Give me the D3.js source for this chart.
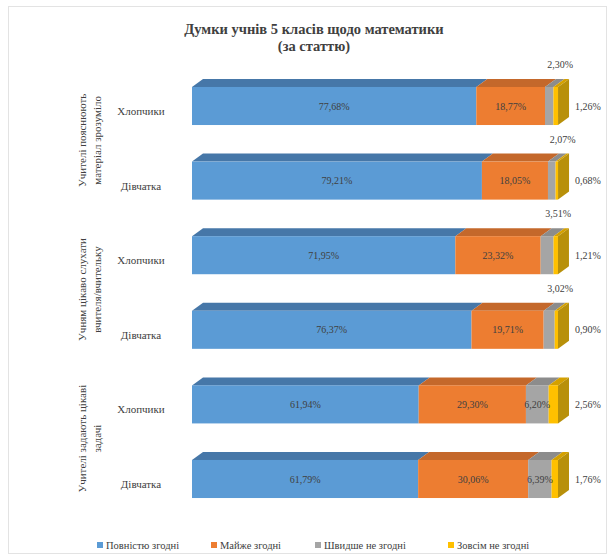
<!DOCTYPE html>
<html><head><meta charset="utf-8">
<script src="https://cdn.jsdelivr.net/npm/d3@7"></script>
<style>body{margin:0;background:#fff}svg{display:block}</style>
</head><body><svg id="c" width="614" height="558"></svg>
<script>
const title = ["Думки учнів 5 класів щодо математики", "(за статтю)"];
const groupLabels = [["Учителі пояснюють", "матеріал зрозуміло"], ["Учням цікаво слухати", "вчителя/вчительку"], ["Учителі задають цікаві", "задачі"]];
const genders = ["Хлопчики", "Дівчатка"];
const seriesNames = ["Повністю згодні", "Майже згодні", "Швидше не згодні", "Зовсім не згодні"];
const fullyAgree = [77.68, 79.21, 71.95, 76.37, 61.94, 61.79];
const mostlyAgree = [18.77, 18.05, 23.32, 19.71, 29.30, 30.06];
const ratherDisagree = [2.30, 2.07, 3.51, 3.02, 6.20, 6.39];
const fullyDisagree = [1.26, 0.68, 1.21, 0.90, 2.56, 1.76];

const front = ["#5B9BD5", "#ED7D31", "#A5A5A5", "#FFC000"];
const topC = ["#4677A8", "#C4682B", "#8C8C8C", "#D4A000"];
const sideC = ["#3F6E9A", "#AD5A23", "#7A7A7A", "#B8900A"];
const FONT = "Liberation Serif";

const svg = d3.select("#c");
svg.append("rect").attr("x", 8.5).attr("y", 6.5).attr("width", 598).attr("height", 547)
  .attr("fill", "#fff").attr("stroke", "#e3e3e3");

svg.append("text").attr("x", 314).attr("y", 34).attr("text-anchor", "middle").attr("font-family", FONT)
  .attr("font-weight", "bold").attr("font-size", 14.5).attr("fill", "#404040")
  .selectAll("tspan").data(title).join("tspan").attr("x", 314).attr("dy", (d, i) => i ? 17 : 0).text(d => d);

const rows = [];
groupLabels.forEach((g, gi) => genders.forEach((s, si) => rows.push({ id: gi * 2 + si, g: gi, gender: s })));
const seriesVals = [fullyAgree, mostlyAgree, ratherDisagree, fullyDisagree];

const x = d3.scaleLinear().domain([0, 100]).range([192, 558]);
const y = d3.scaleBand().domain(rows.map(r => r.id)).range([68.7, 516.3]).paddingInner(0.49).paddingOuter(0.245);
const dx = 11, dy = 8;
const bw = y.bandwidth();

rows.forEach(r => {
  const gEl = svg.append("g");
  let cum = 0;
  const segs = seriesVals.map((arr, k) => { const v = arr[r.id]; const s = { k, v, x0: cum, x1: cum + v }; cum += v; return s; });
  const y0 = y(r.id);
  segs.forEach(s => {
    const a = x(s.x0), b = x(s.x1);
    gEl.append("path").attr("d", `M${a},${y0}L${a + dx},${y0 - dy}L${b + dx},${y0 - dy}L${b},${y0}Z`).attr("fill", topC[s.k]);
  });
  segs.forEach(s => {
    gEl.append("rect").attr("x", x(s.x0)).attr("y", y0).attr("width", x(s.x1) - x(s.x0)).attr("height", bw).attr("fill", front[s.k]);
  });
  const last = segs[segs.length - 1], e = x(last.x1);
  gEl.append("path").attr("d", `M${e},${y0}L${e + dx},${y0 - dy}L${e + dx},${y0 + bw - dy}L${e},${y0 + bw}Z`).attr("fill", sideC[3]);
  const cy = y0 + bw / 2 + 3.5;
  segs.forEach(s => {
    const txt = d3.format(".2f")(s.v).replace(".", ",") + "%";
    const mid = (x(s.x0) + x(s.x1)) / 2;
    let tx = mid, ty = cy, anchor = "middle";
    if (s.k === 3) { tx = e + dx + 6; anchor = "start"; }
    else if (s.k === 2 && s.v < 5) { tx = mid + dx; ty = y0 - dy - 11; }
    gEl.append("text").attr("x", tx).attr("y", ty).attr("text-anchor", anchor).attr("font-family", FONT)
      .attr("font-size", 10).attr("fill", "#404040").text(txt);
  });
  svg.append("text").attr("x", 141).attr("y", y0 + bw / 2 + 9).attr("text-anchor", "middle").attr("font-family", FONT)
    .attr("font-size", 11).attr("fill", "#404040").text(r.gender);
});

groupLabels.forEach((lines, gi) => {
  const cy = (y(gi * 2) + y(gi * 2 + 1) + bw) / 2 - 3;
  const t = svg.append("text").attr("transform", `translate(92,${cy}) rotate(-90)`).attr("text-anchor", "middle")
    .attr("font-family", FONT).attr("font-size", 11).attr("fill", "#404040");
  const off = lines.length === 2 ? -6 : 0;
  lines.forEach((l, i) => t.append("tspan").attr("x", 0).attr("y", off + i * 15).text(l));
});

const legX = [97, 211, 315, 448];
const leg = svg.append("g");
seriesNames.forEach((n, i) => {
  leg.append("rect").attr("x", legX[i]).attr("y", 542).attr("width", 6).attr("height", 6).attr("fill", front[i]);
  leg.append("text").attr("x", legX[i] + 9).attr("y", 549).attr("font-family", FONT).attr("font-size", 10.5).attr("fill", "#404040").text(n);
});
</script></body></html>
